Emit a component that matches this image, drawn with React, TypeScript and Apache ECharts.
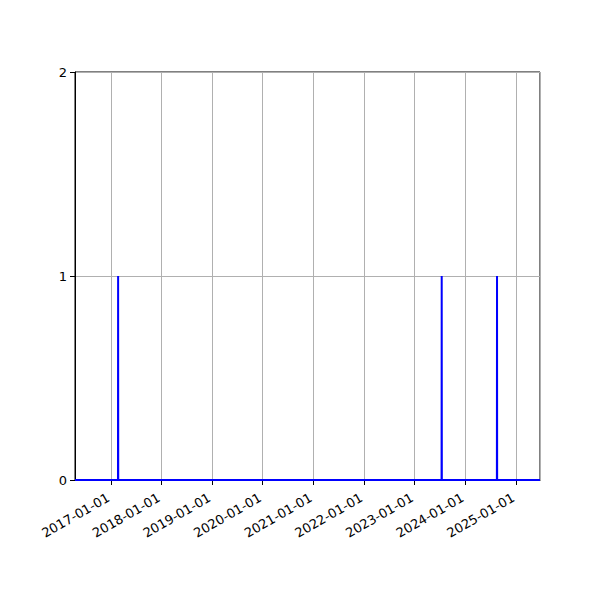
import React, { useEffect, useRef } from 'react';
import * as echarts from 'echarts';

// daily counts, 0 everywhere except a few single-day events
const dates = [
  '2016-04-17',
  '2017-02-21', '2017-02-22', '2017-02-23',
  '2023-07-14', '2023-07-15', '2023-07-16',
  '2024-08-16', '2024-08-17', '2024-08-18',
  '2025-06-23'
];
const counts = [0, 0, 1, 0, 0, 1, 0, 0, 1, 0, 0];

const xMin = '2016-04-17';
const xMax = '2025-06-23';
const yTicks = [0, 1, 2];

const App: React.FC = () => {
  const chartRef = useRef<HTMLDivElement>(null);

  useEffect(() => {
    if (!chartRef.current) return;
    const chart = echarts.init(chartRef.current, undefined, { renderer: 'svg' });

    const font = 'DejaVu Sans';
    const option: echarts.EChartsOption = {
      animation: false,
      backgroundColor: '#fff',
      grid: {
        left: 75,
        right: 60,
        top: 72,
        bottom: 120,
        show: true,
        borderColor: '#000',
        borderWidth: 1,
        backgroundColor: 'transparent'
      },
      xAxis: {
        type: 'time',
        min: xMin,
        max: xMax,
        splitNumber: 9,
        axisLine: { show: true, onZero: false, lineStyle: { color: '#000', width: 1 } },
        axisTick: { show: true, length: 5, lineStyle: { color: '#000' } },
        axisLabel: {
          rotate: 30,
          color: '#000',
          fontFamily: font,
          fontSize: 13,
          margin: 15,
          padding: [0, 3, 0, 0],
          showMinLabel: false,
          showMaxLabel: false,
          hideOverlap: false,
          formatter: '{yyyy}-{MM}-{dd}'
        },
        splitLine: { show: true, lineStyle: { color: '#b0b0b0', width: 1 } }
      },
      yAxis: {
        type: 'value',
        min: yTicks[0],
        max: yTicks[yTicks.length - 1],
        interval: 1,
        axisLine: { show: true, lineStyle: { color: '#000', width: 1 } },
        axisTick: { show: true, length: 5, lineStyle: { color: '#000' } },
        axisLabel: { color: '#000', fontFamily: font, fontSize: 13, margin: 8 },
        splitLine: { show: true, lineStyle: { color: '#b0b0b0', width: 1 } }
      },
      series: [
        {
          type: 'line',
          data: dates.map((d, i) => [d, counts[i]]),
          showSymbol: false,
          lineStyle: { color: '#0000ff', width: 2 },
          z: 10
        }
      ]
    };

    chart.setOption(option);
    return () => chart.dispose();
  }, []);

  return <div ref={chartRef} style={{ width: 600, height: 600, margin: -8 }} />;
};

export default App;
